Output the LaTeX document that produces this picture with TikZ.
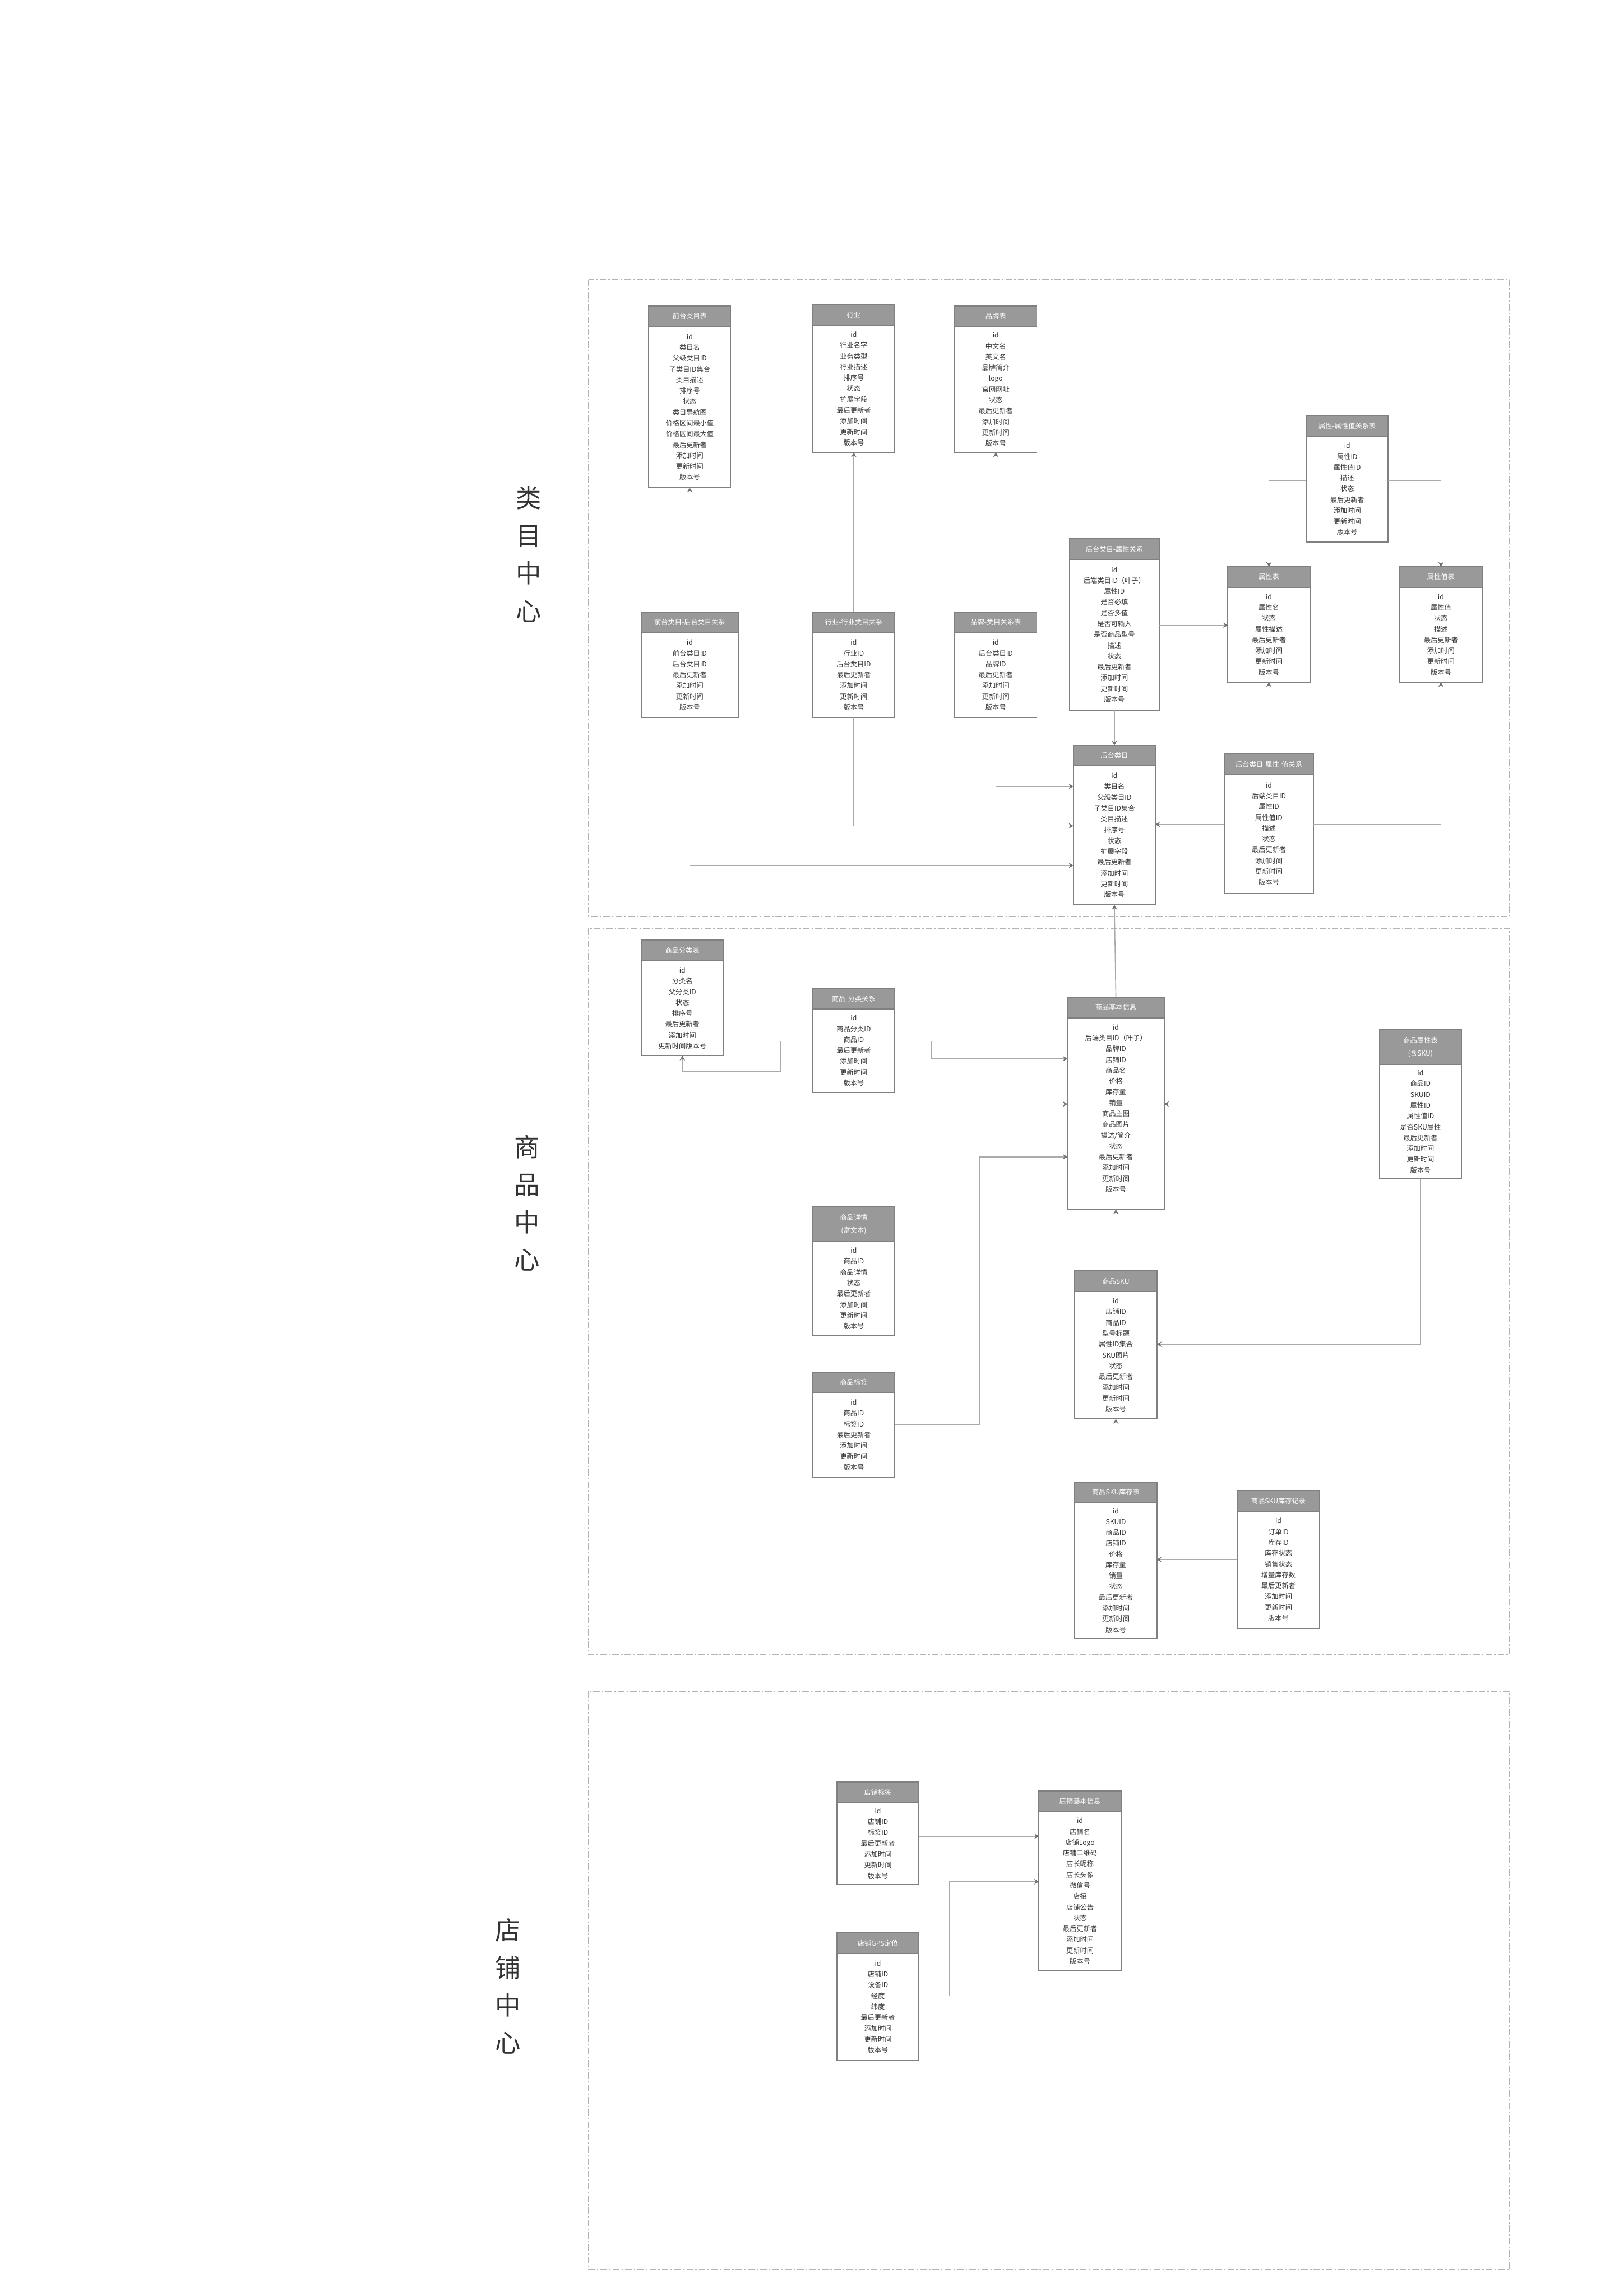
\documentclass[tikz,border=0pt]{standalone}
\usepackage{fontspec}
\setmainfont{Noto Sans CJK SC}
\usetikzlibrary{positioning,arrows.meta}

\definecolor{hdrgray}{HTML}{999999}
\definecolor{boxgray}{HTML}{808080}
\definecolor{linkgray}{HTML}{AAAAAA}
\definecolor{tipgray}{HTML}{707070}
\definecolor{txtgray}{HTML}{333333}
\definecolor{zonegray}{HTML}{B3B3B3}

\tikzset{
  hdr/.style={draw=boxgray, fill=hdrgray, text=white, anchor=north, inner sep=0pt, outer sep=0pt,
    line width=0.3mm, align=center, font=\fontsize{5.4pt}{8.5pt}\selectfont},
  fld/.style={draw=boxgray, fill=white, text=txtgray, inner sep=0pt, outer sep=0pt,
    line width=0.3mm, align=center, font=\fontsize{5.4pt}{8.5pt}\selectfont},
  link/.style={draw=linkgray, line width=0.25mm,
    -{Stealth[length=1.3mm,width=1.5mm,inset=0.45mm,color=tipgray]}},
  zone/.style={draw=zonegray, line width=0.25mm, dash pattern=on 1.8mm off 0.6mm on 0.4mm off 0.6mm},
  sidelbl/.style={text=txtgray, align=center, font=\fontsize{20pt}{29.6pt}\selectfont}
}

% table: name, x, top, width, header height, body height, title, fields
\newcommand{\erbox}[8]{%
  \node[hdr, minimum width={#4*0.4049mm}, minimum height={#5*0.4049mm}] (#1h) at (#2,#3) {#7};
  \node[fld, minimum width={#4*0.4049mm}, minimum height={#6*0.4049mm}, below=0pt of #1h] (#1) {#8};
}

\begin{document}
\begin{tikzpicture}[x=0.4049mm,y=-0.4049mm]
  \useasboundingbox (0,0) rectangle (1109,1568);

  % zones
  \draw[zone] (402,191) rectangle (1031,626);
  \draw[zone] (402,634) rectangle (1031,1130);
  \draw[zone] (402,1155) rectangle (1031,1550);
  \node[sidelbl] (lblcat) at (361,378.5) {类\\目\\中\\心};
  \node[sidelbl] (lblgoods) at (360,821.5) {商\\品\\中\\心};
  \node[sidelbl] (lblshop) at (347,1356.5) {店\\铺\\中\\心};

  % category center
  \erbox{qtlm}{471}{209}{56}{14}{110}{前台类目表}{id\\类目名\\父级类目ID\\子类目ID集合\\类目描述\\排序号\\状态\\类目导航图\\价格区间最小值\\价格区间最大值\\最后更新者\\添加时间\\更新时间\\版本号}
  \erbox{hy}{583}{208}{56}{14}{87}{行业}{id\\行业名字\\业务类型\\行业描述\\排序号\\状态\\扩展字段\\最后更新者\\添加时间\\更新时间\\版本号}
  \erbox{pp}{680}{209}{56}{14}{86}{品牌表}{id\\中文名\\英文名\\品牌简介\\logo\\官网网址\\状态\\最后更新者\\添加时间\\更新时间\\版本号}
  \erbox{sxz}{920}{284}{56}{14}{72}{属性-属性值关系表}{id\\属性ID\\属性值ID\\描述\\状态\\最后更新者\\添加时间\\更新时间\\版本号}
  \erbox{htsx}{761}{368}{61}{14}{103}{后台类目-属性关系}{id\\后端类目ID（叶子）\\属性ID\\是否必填\\是否多值\\是否可输入\\是否商品型号\\描述\\状态\\最后更新者\\添加时间\\更新时间\\版本号}
  \erbox{sxb}{866.5}{387}{56}{14}{65}{属性表}{id\\属性名\\状态\\属性描述\\最后更新者\\添加时间\\更新时间\\版本号}
  \erbox{sxzb}{984}{387}{56}{14}{65}{属性值表}{id\\属性值\\状态\\描述\\最后更新者\\添加时间\\更新时间\\版本号}
  \erbox{qtht}{471}{418}{66}{14}{58}{前台类目-后台类目关系}{id\\前台类目ID\\后台类目ID\\最后更新者\\添加时间\\更新时间\\版本号}
  \erbox{hyhy}{583}{418}{56}{14}{58}{行业-行业类目关系}{id\\行业ID\\后台类目ID\\最后更新者\\添加时间\\更新时间\\版本号}
  \erbox{pplm}{680}{418}{56}{14}{58}{品牌-类目关系表}{id\\后台类目ID\\品牌ID\\最后更新者\\添加时间\\更新时间\\版本号}
  \erbox{htlm}{761}{509}{56}{14}{95}{后台类目}{id\\类目名\\父级类目ID\\子类目ID集合\\类目描述\\排序号\\状态\\扩展字段\\最后更新者\\添加时间\\更新时间\\版本号}
  \erbox{htsxz}{866.5}{515}{61}{14}{81}{后台类目-属性-值关系}{id\\后端类目ID\\属性ID\\属性值ID\\描述\\状态\\最后更新者\\添加时间\\更新时间\\版本号}

  % goods center
  \erbox{spfl}{466}{642}{56}{14}{65}{商品分类表}{id\\分类名\\父分类ID\\状态\\排序号\\最后更新者\\添加时间\\更新时间版本号}
  \erbox{spflgx}{583}{675}{56}{14}{57}{商品-分类关系}{id\\商品分类ID\\商品ID\\最后更新者\\添加时间\\更新时间\\版本号}
  \erbox{spjb}{762}{681}{66}{14}{131}{商品基本信息}{id\\后端类目ID（叶子）\\品牌ID\\店铺ID\\商品名\\价格\\库存量\\销量\\商品主图\\商品图片\\描述/简介\\状态\\最后更新者\\添加时间\\更新时间\\版本号\\~}
  \erbox{spsx}{970}{703}{56}{24}{78}{商品属性表\\[1.5pt](含SKU)}{id\\商品ID\\SKUID\\属性ID\\属性值ID\\是否SKU属性\\最后更新者\\添加时间\\更新时间\\版本号}
  \erbox{spxq}{583}{824}{56}{24}{64}{商品详情\\[1.5pt](富文本)}{id\\商品ID\\商品详情\\状态\\最后更新者\\添加时间\\更新时间\\版本号}
  \erbox{spbq}{583}{937}{56}{14}{58}{商品标签}{id\\商品ID\\标签ID\\最后更新者\\添加时间\\更新时间\\版本号}
  \erbox{sku}{762}{868}{56}{14}{87}{商品SKU}{id\\店铺ID\\商品ID\\型号标题\\属性ID集合\\SKU图片\\状态\\最后更新者\\添加时间\\更新时间\\版本号}
  \erbox{skukc}{762}{1012}{56}{14}{93}{商品SKU库存表}{id\\SKUID\\商品ID\\店铺ID\\价格\\库存量\\销量\\状态\\最后更新者\\添加时间\\更新时间\\版本号}
  \erbox{skujl}{873}{1018}{56}{14}{80}{商品SKU库存记录}{id\\订单ID\\库存ID\\库存状态\\销售状态\\增量库存数\\最后更新者\\添加时间\\更新时间\\版本号}

  % shop center
  \erbox{dpbq}{599.5}{1217}{56}{14}{56}{店铺标签}{id\\店铺ID\\标签ID\\最后更新者\\添加时间\\更新时间\\版本号}
  \erbox{dpjb}{737.5}{1223}{56}{14}{109}{店铺基本信息}{id\\店铺名\\店铺Logo\\店铺二维码\\店长昵称\\店长头像\\微信号\\店招\\店铺公告\\状态\\最后更新者\\添加时间\\更新时间\\版本号}
  \erbox{dpgps}{599.5}{1320}{56}{14}{73}{店铺GPS定位}{id\\店铺ID\\设备ID\\经度\\纬度\\最后更新者\\添加时间\\更新时间\\版本号}

  % links, category center
  \draw[link] (qthth.north) -- (qtlm.south);
  \draw[link] (hyhyh.north) -- (hy.south);
  \draw[link] (pplmh.north) -- (pp.south);
  \draw[link] (qtht.south) |- (htlm.west |- 0,591);
  \draw[link] (hyhy.south) |- (htlm.west |- 0,564);
  \draw[link] (pplm.south) |- (htlm.west |- 0,537);
  \draw[link] (htsx.south) -- (htlmh.north);
  \draw[link] (htsx.east |- 0,427) -- (sxb.west |- 0,427);
  \draw[link] (sxz.west |- 0,328) -| (sxbh.north);
  \draw[link] (sxz.east |- 0,328) -| (sxzbh.north);
  \draw[link] (htsxzh.north) -- (sxb.south);
  \draw[link] (htsxz.east |- 0,563) -| (sxzb.south);
  \draw[link] (htsxz.west |- 0,563) -- (htlm.east |- 0,563);
  \draw[link] (spjbh.north) -- (htlm.south);

  % links, goods center
  \draw[link] (spflgx.west |- 0,711) -| (533,732) -| (spfl.south);
  \draw[link] (spflgx.east |- 0,711) -| (636,723) -- (spjb.west |- 0,723);
  \draw[link] (spxq.east |- 0,868) -| (633,754) -- (spjb.west |- 0,754);
  \draw[link] (spbq.east |- 0,973) -| (669,790) -- (spjb.west |- 0,790);
  \draw[link] (spsx.west |- 0,754) -- (spjb.east |- 0,754);
  \draw[link] (spsx.south) |- (sku.east |- 0,918);
  \draw[link] (skuh.north) -- (spjb.south);
  \draw[link] (skukch.north) -- (sku.south);
  \draw[link] (skujl.west |- 0,1065) -- (skukc.east |- 0,1065);

  % links, shop center
  \draw[link] (dpbq.east |- 0,1254) -- (dpjb.west |- 0,1254);
  \draw[link] (dpgps.east |- 0,1363) -| (648,1285) -- (dpjb.west |- 0,1285);
\end{tikzpicture}
\end{document}
